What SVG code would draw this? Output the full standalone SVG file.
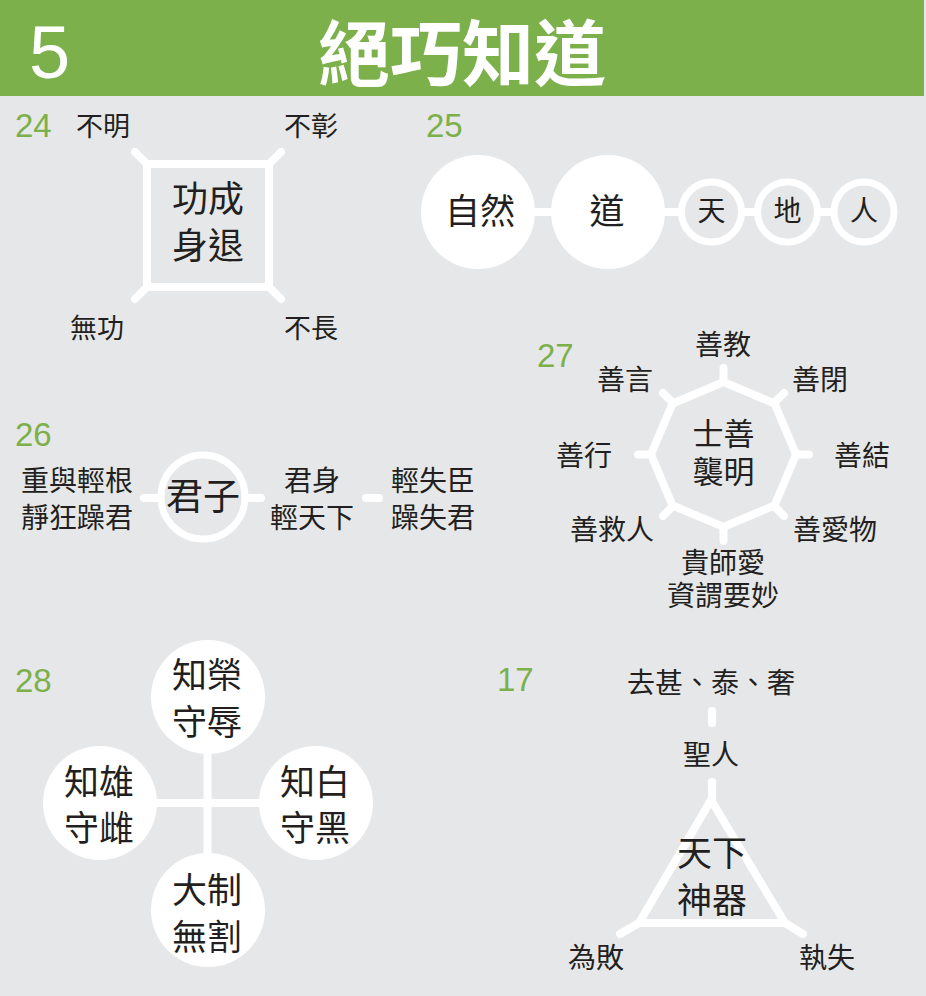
<svg xmlns="http://www.w3.org/2000/svg" width="926" height="996" viewBox="0 0 926 996">
<style>
.t{font-family:"Noto Sans CJK TC","Noto Sans CJK SC",sans-serif;fill:#231f20;text-anchor:middle}
.n{font-family:"Liberation Sans",Arial,sans-serif;fill:#7cb04b;font-size:33px}
.w{stroke:#fff;stroke-width:8;fill:none;stroke-linecap:round;stroke-linejoin:miter}
.wb{fill:#fff}
.ring{fill:#e6e7e8;stroke:#fff;stroke-width:7}
.s27{font-size:27px}
.s28{font-size:28px}
.s35{font-size:35px}
</style>
<rect width="926" height="996" fill="#e6e7e8"/>
<g id="header">
<rect x="0" y="0" width="924" height="96" fill="#7cb04b"/>
<text x="29" y="78" font-family="Liberation Sans,Arial,sans-serif" font-size="74" fill="#fff">5</text>
<text x="462" y="80" font-family="Noto Sans CJK TC,Noto Sans CJK SC,sans-serif" font-size="72" font-weight="bold" fill="#fff" text-anchor="middle">絕巧知道</text>
</g>
<g id="numbers">
<text class="n" x="15" y="137">24</text>
<text class="n" x="426" y="137">25</text>
<text class="n" x="15" y="446">26</text>
<text class="n" x="537" y="367">27</text>
<text class="n" x="15" y="692">28</text>
<text class="n" x="497" y="691">17</text>
</g>
<g id="connectors">
<line class="w" x1="135" y1="152" x2="147" y2="164"/>
<line class="w" x1="281" y1="152" x2="269" y2="164"/>
<line class="w" x1="135" y1="299" x2="147" y2="287"/>
<line class="w" x1="281" y1="299" x2="269" y2="287"/>
<line class="w" x1="530" y1="212" x2="560" y2="212"/>
<line class="w" x1="660" y1="212" x2="685" y2="212"/>
<line class="w" x1="740" y1="212" x2="760" y2="212"/>
<line class="w" x1="815" y1="212" x2="836" y2="212"/>
<line class="w" x1="144" y1="498" x2="160" y2="498"/>
<line class="w" x1="245" y1="498" x2="261" y2="498"/>
<line class="w" x1="366" y1="498" x2="379" y2="498"/>
<line class="w" x1="723.5" y1="368" x2="723.5" y2="382"/>
<line class="w" x1="784" y1="393" x2="774" y2="403"/>
<line class="w" x1="809" y1="454.5" x2="796" y2="454.5"/>
<line class="w" x1="784" y1="516" x2="774" y2="506"/>
<line class="w" x1="723.5" y1="541" x2="723.5" y2="527"/>
<line class="w" x1="663" y1="516" x2="673" y2="506"/>
<line class="w" x1="638" y1="454.5" x2="651" y2="454.5"/>
<line class="w" x1="663" y1="393" x2="673" y2="403"/>
<line x1="207.5" y1="740" x2="207.5" y2="870" stroke="#fff" stroke-width="8"/>
<line x1="140" y1="803" x2="275" y2="803" stroke="#fff" stroke-width="8"/>
<line class="w" x1="712" y1="711" x2="712" y2="723"/>
<line class="w" x1="712" y1="782" x2="712" y2="800"/>
<line class="w" x1="620" y1="934" x2="639" y2="923"/>
<line class="w" x1="803" y1="934" x2="785" y2="923"/>
</g>
<g id="n24">
<rect class="w" x="147" y="164" width="122" height="123"/>
<text class="t" x="208" y="212" font-size="36">功成</text>
<text class="t" x="208" y="259" font-size="36">身退</text>
<text class="t s27" x="103" y="136">不明</text>
<text class="t s27" x="311" y="136">不彰</text>
<text class="t s27" x="97" y="338">無功</text>
<text class="t s27" x="311" y="338">不長</text>
</g>
<g id="n25">
<circle class="wb" cx="478" cy="212" r="57"/>
<text class="t s35" x="480" y="224">自然</text>
<circle class="wb" cx="608" cy="212" r="57"/>
<text class="t s35" x="607" y="224">道</text>
<circle class="ring" cx="711.5" cy="212" r="30"/>
<text class="t s28" x="711.5" y="221">天</text>
<circle class="ring" cx="787.5" cy="212" r="30"/>
<text class="t s28" x="787.5" y="221">地</text>
<circle class="ring" cx="864" cy="212" r="30"/>
<text class="t s28" x="864" y="221">人</text>
</g>
<g id="n26">
<text class="t s28" x="77" y="491">重與輕根</text>
<text class="t s28" x="77" y="528">靜狂躁君</text>
<circle class="ring" cx="203" cy="497" r="42"/>
<text class="t" x="203" y="510" font-size="37">君子</text>
<text class="t s28" x="312" y="491">君身</text>
<text class="t s28" x="312" y="528">輕天下</text>
<text class="t s28" x="433" y="491">輕失臣</text>
<text class="t s28" x="433" y="528">躁失君</text>
</g>
<g id="n27">
<polygon class="w" points="723.5,382 774.5,403.5 796,454.5 774.5,505.5 723.5,527 672.5,505.5 651,454.5 672.5,403.5"/>
<text class="t" x="723.5" y="445" font-size="31">士善</text>
<text class="t" x="723.5" y="483" font-size="31">襲明</text>
<text class="t s28" x="723" y="355">善教</text>
<text class="t s28" x="820" y="390">善閉</text>
<text class="t s28" x="862" y="466">善結</text>
<text class="t s28" x="835" y="540">善愛物</text>
<text class="t s28" x="723" y="573">貴師愛</text>
<text class="t s28" x="723" y="606">資謂要妙</text>
<text class="t s28" x="612" y="540">善救人</text>
<text class="t s28" x="584" y="466">善行</text>
<text class="t s28" x="625" y="390">善言</text>
</g>
<g id="n28">
<circle class="wb" cx="208" cy="697" r="57"/>
<text class="t s35" x="207" y="688">知榮</text>
<text class="t s35" x="207" y="735">守辱</text>
<circle class="wb" cx="100" cy="803" r="57"/>
<text class="t s35" x="99" y="795">知雄</text>
<text class="t s35" x="99" y="841">守雌</text>
<circle class="wb" cx="316" cy="803" r="57"/>
<text class="t s35" x="315" y="795">知白</text>
<text class="t s35" x="315" y="841">守黑</text>
<circle class="wb" cx="208" cy="910" r="57"/>
<text class="t s35" x="207" y="903">大制</text>
<text class="t s35" x="207" y="950">無割</text>
</g>
<g id="n17">
<text class="t s28" x="711" y="693">去甚、泰、奢</text>
<text class="t s28" x="711" y="765">聖人</text>
<polygon class="w" points="711,800 785,923 639,923"/>
<text class="t s35" x="712" y="866">天下</text>
<text class="t s35" x="712" y="913">神器</text>
<text class="t s28" x="596" y="968">為敗</text>
<text class="t s28" x="827" y="968">執失</text>
</g>
</svg>
